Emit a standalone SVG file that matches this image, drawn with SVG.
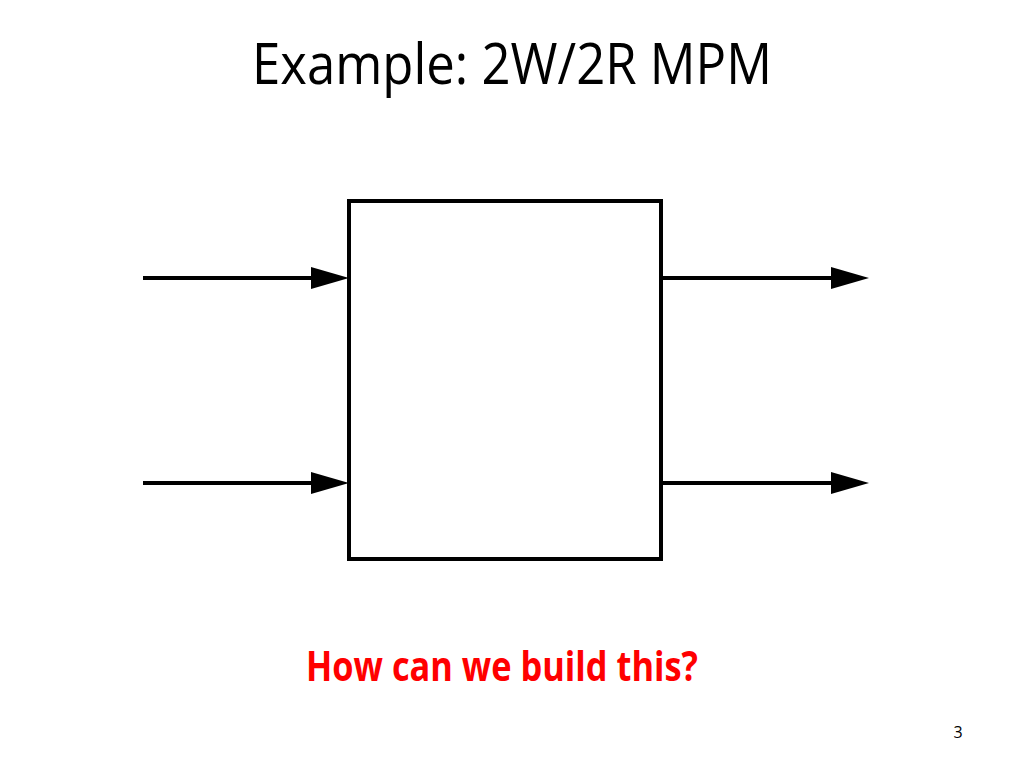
<svg xmlns="http://www.w3.org/2000/svg" width="1024" height="768" viewBox="0 0 1024 768">
<style>
.t{font-family:"Open Sans","Liberation Sans",sans-serif;}
.ln{stroke:#000;stroke-width:4;fill:none}
</style>
<defs>
<marker id="ah" markerWidth="40" markerHeight="22" refX="0" refY="11" orient="auto" markerUnits="userSpaceOnUse" overflow="visible">
<path d="M0,0 L38,11 L0,22 Z" fill="#000"/>
</marker>
</defs>
<rect width="1024" height="768" fill="#fff"/>
<text class="t" x="512" y="84" font-size="56" text-anchor="middle" textLength="520" lengthAdjust="spacingAndGlyphs" fill="#000">Example: 2W/2R MPM</text>
<g id="mpm">
<rect x="349" y="201" width="312" height="358" class="ln"/>
</g>
<g id="connectors">
<line x1="143" y1="278" x2="311" y2="278" class="ln" marker-end="url(#ah)"/>
<line x1="143" y1="483" x2="311" y2="483" class="ln" marker-end="url(#ah)"/>
<line x1="661" y1="278" x2="831" y2="278" class="ln" marker-end="url(#ah)"/>
<line x1="661" y1="483" x2="831" y2="483" class="ln" marker-end="url(#ah)"/>
</g>
<text class="t" x="502" y="681" font-size="41" font-weight="bold" text-anchor="middle" textLength="392" lengthAdjust="spacingAndGlyphs" fill="#ff0000">How can we build this?</text>
<text class="t" x="958" y="738" font-size="16" text-anchor="middle" fill="#000">3</text>
</svg>
